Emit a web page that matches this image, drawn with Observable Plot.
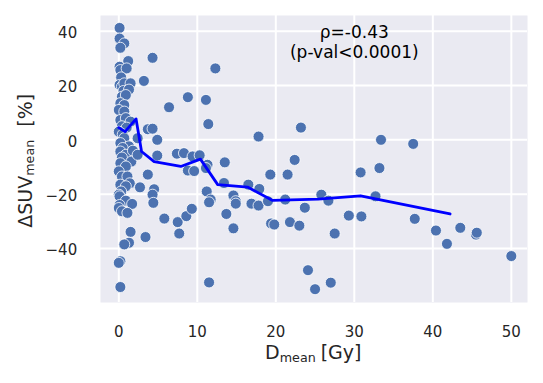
<!DOCTYPE html>
<html>
<head>
<meta charset="utf-8">
<script src="https://cdn.jsdelivr.net/npm/d3@7"></script>
<script src="https://cdn.jsdelivr.net/npm/@observablehq/plot@0.6"></script>
<style>
  html, body { margin: 0; padding: 0; background: white; }
  #chart { width: 543px; height: 383px; }
</style>
</head>
<body>
<div id="chart"></div>
<script>
// Scatter data: dose (Gy) and ΔSUVmean (%)
const doseX = [
  0.1,0.1,0.7,0.2,1.2,0.1,0.2,1.0,0.3,0.1,0.4,0.7,1.5,0.6,1.3,0.4,0.9,0.2,0.7,0.0,0.7,0.2,0.9,1.5,
  0.4,1.0,0.0,0.5,0.7,0.2,2.4,1.3,0.5,0.2,0.9,0.4,1.8,0.2,1.6,0.9,0.0,0.4,1.1,0.2,1.4,0.9,0.3,0.0,
  0.1,0.9,1.7,0.1,0.0,0.4,1.1,1.5,1.3,0.7,0.2,0.0,0.2,
  4.3,3.2,8.8,6.4,11.1,12.3,11.4,3.7,4.3,4.9,2.4,4.9,7.4,8.3,9.4,10.3,17.8,23.2,13.5,22.4,8.8,9.6,
  11.3,11.1,3.7,19.3,21.5,30.8,33.2,13.4,2.7,4.5,4.3,4.4,11.2,11.7,11.5,14.6,14.9,14.9,16.5,17.9,
  16.9,17.8,19.0,21.2,23.7,25.8,26.7,32.7,13.7,14.6,19.4,19.8,21.8,23.0,27.5,29.3,30.9,5.8,7.5,7.7,
  8.6,9.3,3.4,11.5,24.1,25.0,27.0,33.4,37.5,37.7,40.4,41.8,43.5,45.5,45.6,50.0
];
const suvY = [
  41.2,37.3,35.5,33.9,29.0,26.9,25.7,26.3,23.0,20.2,19.6,20.8,20.8,18.0,18.5,15.9,16.5,13.5,12.8,11.0,10.4,7.3,8.0,6.7,
  5.0,4.5,3.0,2.0,0.6,-1.2,0.6,-2.4,-3.0,-4.3,-5.5,-6.5,-4.0,-8.6,-8.0,-9.8,-11.6,-13.5,-13.5,-16.5,-16.0,-17.1,-19.0,-20.2,
  -20.8,-22.4,-23.6,-24.0,-25.1,-26.3,-26.9,-33.9,-37.9,-38.5,-44.7,-45.3,-54.2,
  30.2,21.7,15.7,12.0,14.7,26.3,5.8,3.9,4.1,0.0,-5.5,-5.8,-5.1,-4.9,-6.1,-5.7,1.2,4.5,-8.3,-7.4,-11.3,-11.5,
  -9.2,-10.4,-12.8,-12.8,-12.8,-12.0,-10.4,-15.9,-17.5,-18.2,-20.2,-23.2,-19.0,-22.0,-23.0,-20.5,-22.6,-23.5,-16.5,-18.1,
  -23.5,-24.2,-22.6,-22.0,-25.0,-20.2,-22.4,-20.8,-27.3,-32.6,-30.8,-31.2,-30.3,-31.6,-34.5,-27.9,-28.2,-29.0,-30.3,-34.5,
  -28.1,-25.4,-35.8,-52.5,-48.0,-55.0,-52.6,0.0,-1.5,-29.1,-33.4,-38.3,-32.4,-34.9,-34.2,-42.8
];

// Trend line (binned means)
const trendX = [0.0, 0.8, 2.2, 2.9, 4.5, 7.9, 10.4, 12.6, 16.4, 19.6, 25.4, 30.8, 42.2];
const trendY = [4.5, 3.0, 7.7, -4.3, -8.0, -9.8, -7.1, -16.5, -17.4, -22.3, -21.8, -20.6, -27.3];

// Ticks
const xTicks = [0, 10, 20, 30, 40, 50];
const yTicks = [-40, -20, 0, 20, 40];

// Annotation
const annotLines = ["ρ=-0.43", "(p-val<0.0001)"];
const annotX = 30;

const points = doseX.map((x, i) => ({x, y: suvY[i]}));
const trend = trendX.map((x, i) => ({x, y: trendY[i]}));

const font = "DejaVu Sans, sans-serif";
const textColor = "#262626";

const svg = Plot.plot({
  width: 543,
  height: 383,
  marginLeft: 100,
  marginRight: 16,
  marginTop: 15,
  marginBottom: 81,
  style: {fontFamily: font, fontSize: "15px", color: textColor, background: "white", overflow: "visible"},
  x: {domain: [-2.33, 52.06]},
  y: {domain: [-59.9, 45.78]},
  marks: [
    Plot.frame({fill: "#EAEAF2", stroke: "none"}),
    Plot.gridX(xTicks, {stroke: "white", strokeOpacity: 1, strokeWidth: 2}),
    Plot.gridY(yTicks, {stroke: "white", strokeOpacity: 1, strokeWidth: 2}),
    Plot.axisX(xTicks, {tickSize: 0, tickPadding: 23.7, fontSize: 15, fill: textColor, label: null}),
    Plot.axisY(yTicks, {tickSize: 0, tickPadding: 23.3, dy: 2, fontSize: 15, fill: textColor, label: null}),
    Plot.dot(points, {x: "x", y: "y", r: 5.5, fill: "#4C72B0", fillOpacity: 1, stroke: "white", strokeWidth: 0.8}),
    Plot.line(trend, {x: "x", y: "y", stroke: "#0000FF", strokeWidth: 2.8}),
    Plot.text([annotLines.join("\n")], {
      x: () => annotX, frameAnchor: "top", lineAnchor: "top", dy: 8,
      fontSize: 17, lineHeight: 1.2, fill: "black", text: d => d
    })
  ]
});

document.getElementById("chart").appendChild(svg);

const s = d3.select(svg);
// x axis label: D_mean [Gy]
const xl = s.append("text")
  .attr("x", 313.3).attr("y", 359)
  .attr("text-anchor", "middle")
  .attr("font-family", font).attr("font-size", 19).attr("fill", textColor);
xl.append("tspan").text("D");
xl.append("tspan").attr("font-size", 12.7).attr("dy", 2.5).text("mean");
xl.append("tspan").attr("dy", -2.5).attr("dx", 5).text("[Gy]");

// y axis label: ΔSUV_mean [%]
const yl = s.append("text")
  .attr("transform", "translate(31.7,160.8) rotate(-90)")
  .attr("text-anchor", "middle")
  .attr("font-family", font).attr("font-size", 19).attr("fill", textColor);
yl.append("tspan").text("ΔSUV");
yl.append("tspan").attr("font-size", 12.7).attr("dy", 2).text("mean");
yl.append("tspan").attr("dy", -2).attr("dx", 13).text("[%]");
</script>
</body>
</html>
